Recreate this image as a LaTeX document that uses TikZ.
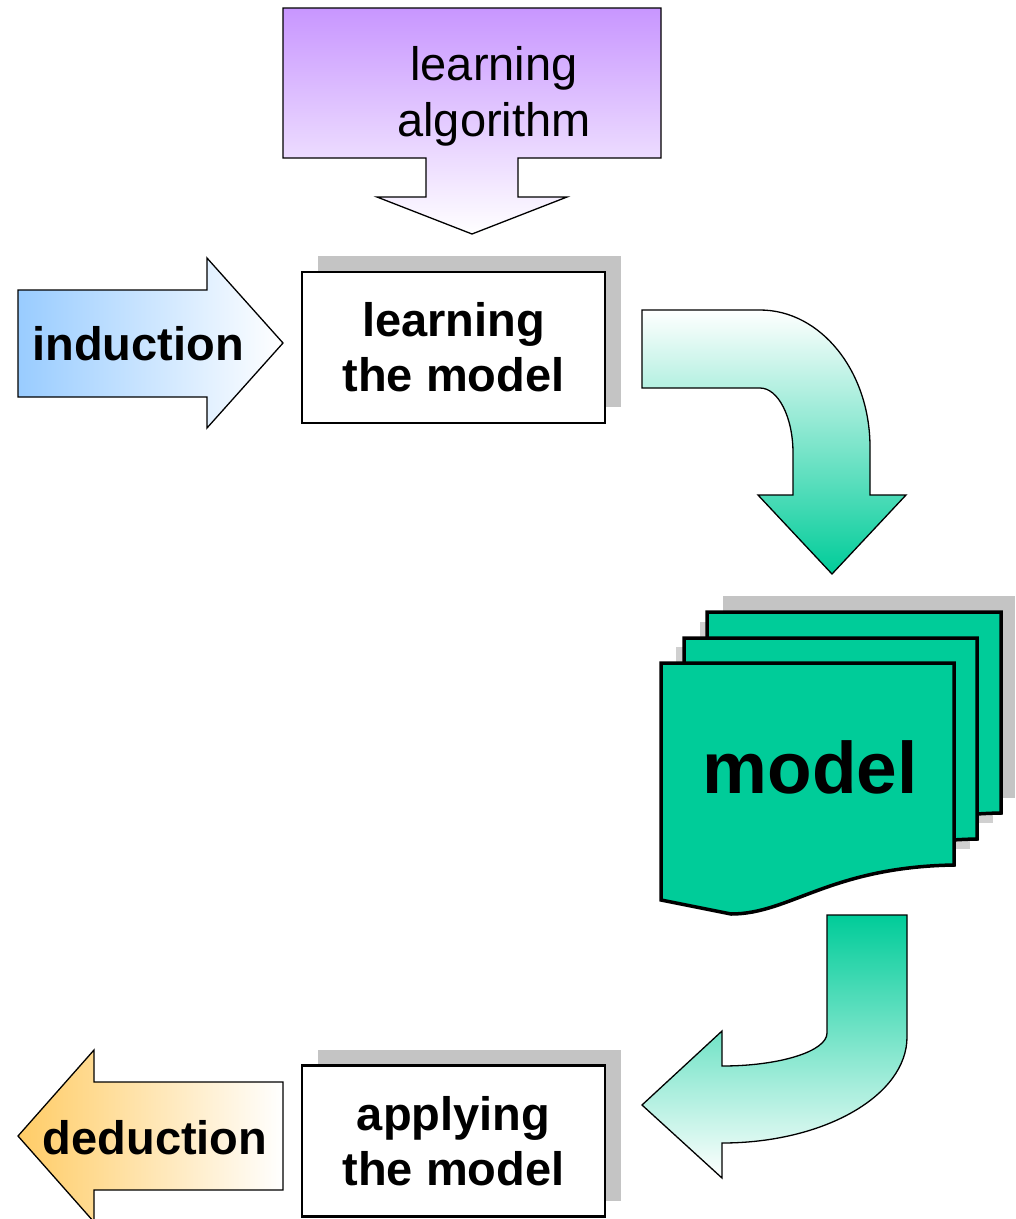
\documentclass[tikz,border=0pt]{standalone}
\usepackage{fontspec}
\setmainfont{Liberation Sans}
\begin{document}
\begin{tikzpicture}[x=1pt,y=-1pt,
  outline/.style={draw=black,line width=1.3pt,line join=miter},
  boxed/.style={draw=black,line width=2.2pt,fill=white,minimum width=303pt,
    minimum height=151pt,inner sep=0pt,align=center,
    font=\bfseries\fontsize{47}{55}\selectfont},
  shade/.style={fill=shadowgray,draw=none},
  sheet/.style={draw=black,line width=3.5pt,fill=modelgreen,line join=miter},
  bigtext/.style={font=\bfseries\fontsize{47}{55}\selectfont,inner sep=0pt}]
\definecolor{modelgreen}{HTML}{00CC99}
\definecolor{algpurple}{HTML}{C896FF}
\definecolor{indblue}{HTML}{99CCFF}
\definecolor{dedorange}{HTML}{FFCC66}
\definecolor{shadowgray}{HTML}{C4C4C4}
\definecolor{lightshadow}{HTML}{D0D0D0}
\useasboundingbox (0,0) rectangle (1016,1219);

% learning algorithm callout pointing down
\path[outline,top color=algpurple,bottom color=white]
  (283,8) -- (661,8) -- (661,158) -- (518,158) -- (518,197) -- (567,197)
  -- (472,234) -- (377,197) -- (426,197) -- (426,158) -- (283,158) -- cycle;
\node[align=center,inner sep=0pt,font=\fontsize{47}{56}\selectfont]
  (alg) at (494,96) {learning\\algorithm};

% induction arrow
\path[outline,left color=indblue,right color=white]
  (18,290) -- (207,290) -- (207,258) -- (283,343) -- (207,428)
  -- (207,397) -- (18,397) -- cycle;
\node[bigtext] (ind) at (138,344) {induction};

% learning box with shadow
\fill[shade] (318,256) rectangle (621,407);
\node[boxed] (learn) at (453.5,347.5) {learning\\the model};

% curved arrow towards the model
\path[outline,top color=white,bottom color=modelgreen]
  (642,310) -- (760,310) .. controls (820.75,310) and (870,371.3) .. (870,447)
  -- (870,495) -- (906,495) -- (832,574) -- (758,495) -- (793,495)
  -- (793,453) .. controls (793,417.1) and (778.2,388) .. (760,388)
  -- (642,388) -- cycle;

% stack of model documents: shadows first, then the sheets back to front
\fill[shade] (723,596) rectangle (1015,798);
\fill[lightshadow] (700,622) rectangle (993,823);
\fill[lightshadow] (676,647) rectangle (970,849);
\path[sheet] (707,612) -- (1001,612) -- (1001,813)
  .. controls (877,815) and (837,862) .. (777,862) -- (707,849) -- cycle;
\path[sheet] (684,638) -- (977,638) -- (977,839)
  .. controls (853,841) and (813,888) .. (754,888) -- (684,875) -- cycle;
\path[sheet] (661,663) -- (954,663) -- (954,865)
  .. controls (830,867) and (790,914) .. (731,914) -- (661,900) -- cycle;
\node[font=\bfseries\fontsize{73}{80}\selectfont,inner sep=0pt,anchor=base]
  (model) at (810,793) {model};

% curved arrow away from the model
\path[outline,top color=modelgreen,bottom color=white]
  (827,915) -- (907,915) -- (907,1037)
  .. controls (907,1095.5) and (824.2,1143) .. (722,1143)
  -- (722,1178) -- (642,1105) -- (722,1031) -- (722,1066)
  .. controls (780,1066) and (827,1051.2) .. (827,1033) -- cycle;

% applying box with shadow
\fill[shade] (318,1050) rectangle (621,1201);
\node[boxed] (apply) at (453.5,1141) {applying\\the model};

% deduction arrow
\path[outline,left color=dedorange,right color=white]
  (283,1082) -- (94,1082) -- (94,1050) -- (18,1136) -- (94,1222)
  -- (94,1190) -- (283,1190) -- cycle;
\node[bigtext] (ded) at (155,1138) {deduction};
\end{tikzpicture}
\end{document}
